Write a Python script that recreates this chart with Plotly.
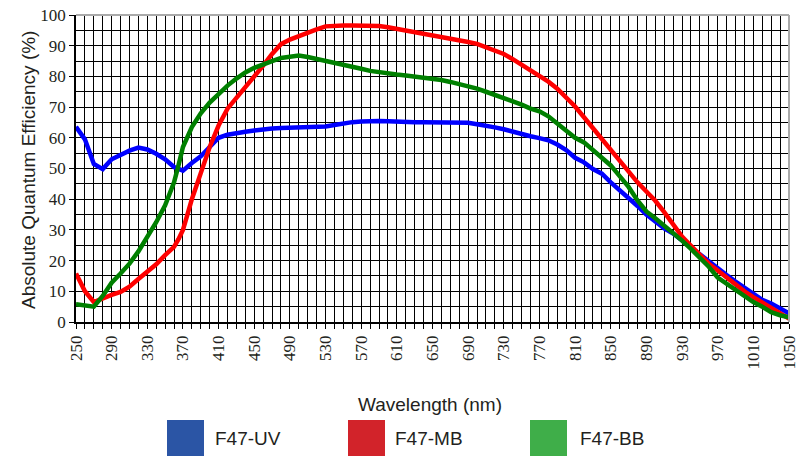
import plotly.graph_objects as go

wl = list(range(250, 1051, 10))

uv_wl = wl
uv = [63.6, 59.5, 51.5, 49.8, 53, 54.5, 55.8, 56.8, 56.2, 54.8, 53, 50.5, 49.3, 51.8, 54, 57, 60, 61,
      61.6, 62, 62.4, 62.8, 63, 63.2, 63.3, 63.5, 63.6, 63.6, 63.7, 64.2, 64.8, 65.1, 65.3, 65.5, 65.5,
      65.4, 65.2, 65.1, 65.1, 65.1, 65.1, 65.1, 65.1, 65.1, 64.9, 64.4, 64.0, 63.4, 62.8, 62.0, 61.0,
      60.5, 59.9, 59.2, 57.8, 56.0, 53.5, 52.0, 49.8, 48.3, 45.5, 43.0, 40.5, 37.8, 35.0, 32.7, 30.5,
      28.8, 26.5, 24.5, 22.3, 20.0, 17.6, 15.3, 13.2, 11.2, 8.8, 7.2, 6.0, 4.5, 2.8]

mb_wl = [250, 260, 270, 280, 290, 300, 310, 320, 330, 340, 350, 360, 365, 370, 375, 380] + list(range(390, 1051, 10))
mb = [15.8, 10, 6.5, 7.8, 8.8, 9.8, 11.5, 14, 16.2, 18.8, 21.8, 24.5, 27, 30, 35, 40,
      48.5, 57, 64, 69.5, 73, 76.4, 80, 83.5, 87.3, 90.5, 92, 93.2, 94.3, 95.3, 96.3, 96.6, 96.6,
      96.6, 96.6, 96.5, 96.4, 96.0, 95.5, 95.0, 94.5, 94.0, 93.5, 92.8, 92.3, 91.8, 91.2, 90.6, 89.6,
      88.6, 87.3, 85.6, 83.8, 82.3, 80.2, 78.3, 76.0, 73.2, 70.2, 66.7, 63.2, 59.3, 56.0, 52.5, 49.0,
      45.5, 42.5, 39.5, 35.8, 31.8, 27.8, 24.8, 21.8, 19.0, 16.8, 14.5, 12.0, 10.0, 8.1, 6.4, 4.9,
      3.0, 1.1]

bb_wl = [250, 260, 270, 280, 290, 300, 310, 320, 330, 340, 350, 360, 365] + list(range(370, 1051, 10))
bb = [5.8, 5.5, 5.0, 8.5, 12.8, 15.8, 19, 23, 27.5, 32.5, 38, 45.5, 51,
      57, 63.5, 68, 71.5, 74.5, 77, 79.3, 81.3, 82.8, 84, 85, 86, 86.5, 86.8, 86.3, 85.7, 85.1, 84.6,
      84.0, 83.2, 82.5, 81.8, 81.3, 80.9, 80.6, 80.3, 80.0, 79.7, 79.3, 78.8, 78.2, 77.5, 76.8, 76.0,
      75.0, 74.0, 73.0, 71.8, 70.8, 69.5, 68.6, 67.0, 64.8, 62.5, 60.0, 58.5, 56.0, 53.8, 51.0, 47.5,
      44.0, 39.6, 36.0, 33.8, 31.5, 29.2, 26.5, 23.8, 21.0, 18.0, 14.5, 12.5, 10.2, 8.5, 6.5, 5.0,
      3.2, 2.2, 1.5]

series_names = ["F47-UV", "F47-MB", "F47-BB"]
line_colors = ["#0000FF", "#FF0000", "#008000"]
legend_colors = ["#2B55A5", "#D2232A", "#3FAE49"]

x_tickvals = list(range(250, 1051, 10))
x_ticktext = [str(v) if (v - 250) % 40 == 0 else "" for v in x_tickvals]
y_tickvals = list(range(0, 101, 10))

W, H = 798, 456
L, R, T, B = 76, 789, 15, 322

SERIF = "Liberation Serif, Times New Roman, DejaVu Serif, serif"
SANS = "Liberation Sans, Arial, sans-serif"

def px(x):
    return (x - L) / (R - L)

def py(y):
    return (B - y) / (B - T)

fig = go.Figure()
for xs, ys, name, c in zip([uv_wl, mb_wl, bb_wl], [uv, mb, bb], series_names, line_colors):
    fig.add_trace(go.Scatter(x=xs, y=ys, mode="lines", name=name, cliponaxis=False,
                             line=dict(color=c, width=4.5), showlegend=False))

shapes = []
annotations = []
shapes.append(dict(type="line", xref="paper", yref="paper", x0=0, x1=1, y0=1, y1=1,
                   line=dict(color="#AAAAAA", width=2)))
shapes.append(dict(type="line", xref="paper", yref="paper", x0=1, x1=1, y0=0, y1=1,
                   line=dict(color="#AAAAAA", width=2)))

sq_left = [167, 348, 530]
txt_left = [213, 393, 578]
for i, (name, c) in enumerate(zip(series_names, legend_colors)):
    shapes.append(dict(type="rect", xref="paper", yref="paper",
                       x0=px(sq_left[i]), x1=px(sq_left[i] + 37), y0=py(420), y1=py(457),
                       fillcolor=c, line=dict(width=0)))
    annotations.append(dict(text=name, xref="paper", yref="paper", x=px(txt_left[i]), y=py(438),
                            xanchor="left", yanchor="middle", showarrow=False,
                            font=dict(family=SANS, size=19, color="#231F20")))

annotations.append(dict(text="Wavelength (nm)", xref="paper", yref="paper", x=px(430), y=py(404),
                        xanchor="center", yanchor="middle", showarrow=False,
                        font=dict(family=SANS, size=19, color="#231F20")))
annotations.append(dict(text="Absolute Quantum Efficiency (%)", xref="paper", yref="paper",
                        x=px(28), y=py(170), xanchor="center", yanchor="middle", textangle=-90,
                        showarrow=False,
                        font=dict(family=SANS, size=19, color="#231F20")))

fig.update_layout(
    width=W, height=H,
    margin=dict(l=L, r=W - R, t=T, b=H - B, autoexpand=False),
    plot_bgcolor="white", paper_bgcolor="white",
    shapes=shapes, annotations=annotations,
    xaxis=dict(range=[250, 1050], tickvals=x_tickvals, ticktext=x_ticktext, tickangle=-90,
               automargin=False, ticklabeloverflow="allow",
               showgrid=True, gridcolor="#000000", gridwidth=1,
               ticks="outside", ticklen=5, tickcolor="#000000", tickwidth=1,
               showline=True, linecolor="#000000", linewidth=1.5, zeroline=False,
               tickfont=dict(family=SERIF, size=17, color="#231F20")),
    yaxis=dict(range=[0, 100], tickvals=y_tickvals, automargin=False, ticklabeloverflow="allow",
               showgrid=True, gridcolor="#000000", gridwidth=1,
               minor=dict(dtick=5, showgrid=True, gridcolor="#000000", gridwidth=1),
               ticks="outside", ticklen=5, tickcolor="#000000", tickwidth=1,
               showline=True, linecolor="#000000", linewidth=1.5, zeroline=False,
               tickfont=dict(family=SERIF, size=17, color="#231F20")),
)

fig.write_html("out.html", config={"displayModeBar": False},
               post_script="document.body.style.margin='0';document.body.style.overflow='hidden';")
